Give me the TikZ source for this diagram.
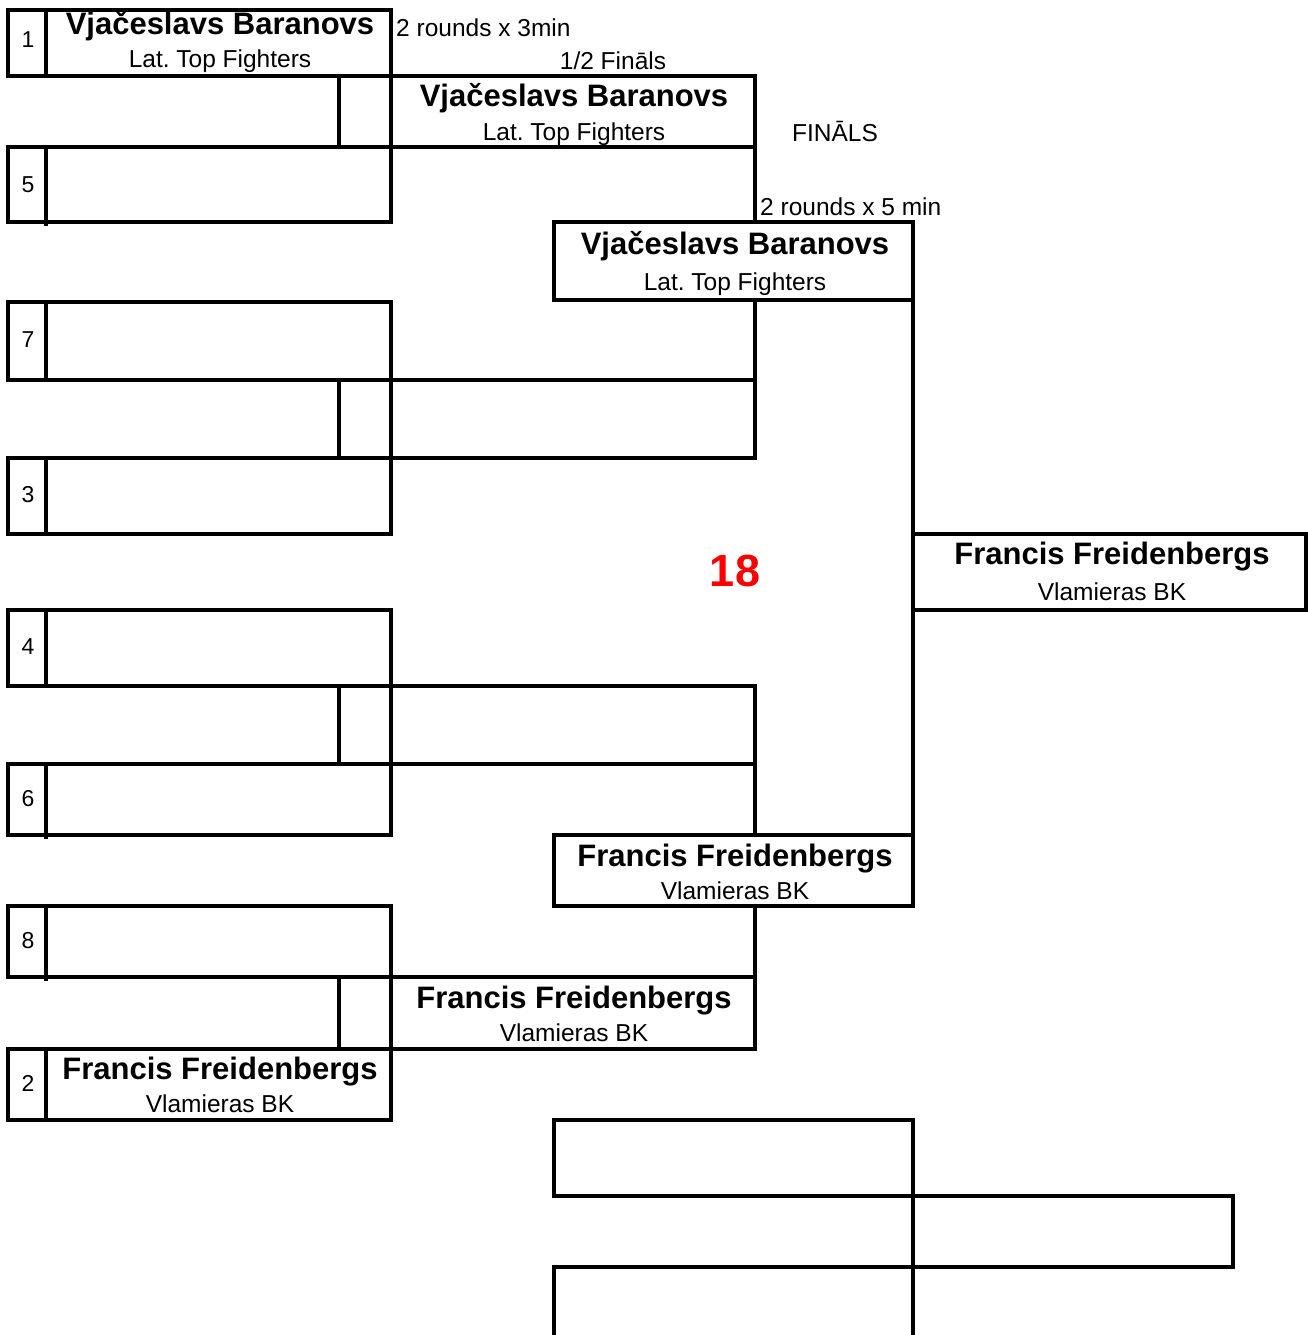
\documentclass[tikz,border=0pt]{standalone}
\usepackage{fontspec}
\setmainfont{Liberation Sans}
\frenchspacing
\begin{document}
\begin{tikzpicture}[x=1pt,y=-1pt,
  ln/.style={line width=3.1pt, line cap=rect},
  fname/.style={font=\fontsize{31}{31}\selectfont\bfseries, inner sep=0pt, anchor=base},
  club/.style={font=\fontsize{24.5}{24.5}\selectfont, inner sep=0pt, anchor=base},
  seed/.style={font=\fontsize{23}{23}\selectfont, inner sep=0pt},
  note/.style={font=\fontsize{24.5}{24.5}\selectfont, inner sep=0pt}]
\useasboundingbox (0,0) rectangle (1308,1335);
% ---- top quarter (1 vs 5)
\draw[ln] (8,10) rectangle (391,76);
\draw[ln] (46,10) -- (46,76);
\draw[ln] (8,147) rectangle (391,222);
\draw[ln] (46,147) -- (46,224);
\draw[ln] (391,76) -- (755,76) -- (755,222);
\draw[ln] (391,147) -- (755,147);
\draw[ln] (339,76) -- (339,147);
\draw[ln] (391,76) -- (391,147);
% ---- final top box
\draw[ln] (554,222) rectangle (913,300);
\draw[ln] (913,300) -- (913,835);
% ---- 7 vs 3
\draw[ln] (8,302) rectangle (391,380);
\draw[ln] (46,302) -- (46,380);
\draw[ln] (391,380) -- (755,380);
\draw[ln] (755,300) -- (755,458) -- (391,458);
\draw[ln] (8,458) rectangle (391,534);
\draw[ln] (46,458) -- (46,534);
\draw[ln] (339,380) -- (339,458);
\draw[ln] (391,380) -- (391,458);
% ---- winner
\draw[ln] (913,534) rectangle (1306,610);
% ---- 4 vs 6
\draw[ln] (8,610) rectangle (391,686);
\draw[ln] (46,610) -- (46,686);
\draw[ln] (391,686) -- (755,686) -- (755,835);
\draw[ln] (391,764) -- (755,764);
\draw[ln] (8,764) rectangle (391,835);
\draw[ln] (46,764) -- (46,837);
\draw[ln] (339,686) -- (339,764);
\draw[ln] (391,686) -- (391,764);
% ---- final bottom box
\draw[ln] (554,835) rectangle (913,906);
% ---- 8 vs 2
\draw[ln] (8,906) rectangle (391,977);
\draw[ln] (46,906) -- (46,979);
\draw[ln] (391,977) -- (755,977);
\draw[ln] (755,906) -- (755,1049) -- (391,1049);
\draw[ln] (8,1049) rectangle (391,1120);
\draw[ln] (46,1049) -- (46,1120);
\draw[ln] (339,977) -- (339,1049);
\draw[ln] (391,977) -- (391,1049);
% ---- bottom (3rd place)
\draw[ln] (554,1120) rectangle (913,1196);
\draw[ln] (913,1196) rectangle (1233,1267);
\draw[ln] (554,1340) -- (554,1267) -- (913,1267);
\draw[ln] (913,1196) -- (913,1340);
% ---- seeds
\node[seed] (s1) at (28,40) {1};
\node[seed] (s5) at (28,185) {5};
\node[seed] (s7) at (28,340) {7};
\node[seed] (s3) at (28,495) {3};
\node[seed] (s4) at (28,647) {4};
\node[seed] (s6) at (28,799) {6};
\node[seed] (s8) at (28,941) {8};
\node[seed] (s2) at (28,1083) {2};
% ---- names
\node[fname] (n1) at (220,35) {Vjačeslavs Baranovs};
\node[club] (c1) at (220,68) {Lat. Top Fighters};
\node[fname] (n2) at (574,107) {Vjačeslavs Baranovs};
\node[club] (c2) at (574,140) {Lat. Top Fighters};
\node[fname] (n3) at (735,254) {Vjačeslavs Baranovs};
\node[club] (c3) at (735,290) {Lat. Top Fighters};
\node[fname] (n4) at (1112,564) {Francis Freidenbergs};
\node[club] (c4) at (1112,600) {Vlamieras BK};
\node[fname] (n5) at (735,866) {Francis Freidenbergs};
\node[club] (c5) at (735,899) {Vlamieras BK};
\node[fname] (n6) at (574,1008) {Francis Freidenbergs};
\node[club] (c6) at (574,1041) {Vlamieras BK};
\node[fname] (n7) at (220,1079) {Francis Freidenbergs};
\node[club] (c7) at (220,1112) {Vlamieras BK};
% ---- notes
\node[note, anchor=west] (r1) at (396,28) {2 rounds x 3min};
\node[note] (sf) at (613,61) {1/2 Fināls};
\node[note] (fi) at (835,131) {FINĀLS};
\node[note, anchor=west] (r2) at (760,207) {2 rounds x 5 min};
\node[font=\fontsize{45}{45}\selectfont\bfseries, text=red, inner sep=0pt] (num) at (735,571) {18};
\end{tikzpicture}
\end{document}
